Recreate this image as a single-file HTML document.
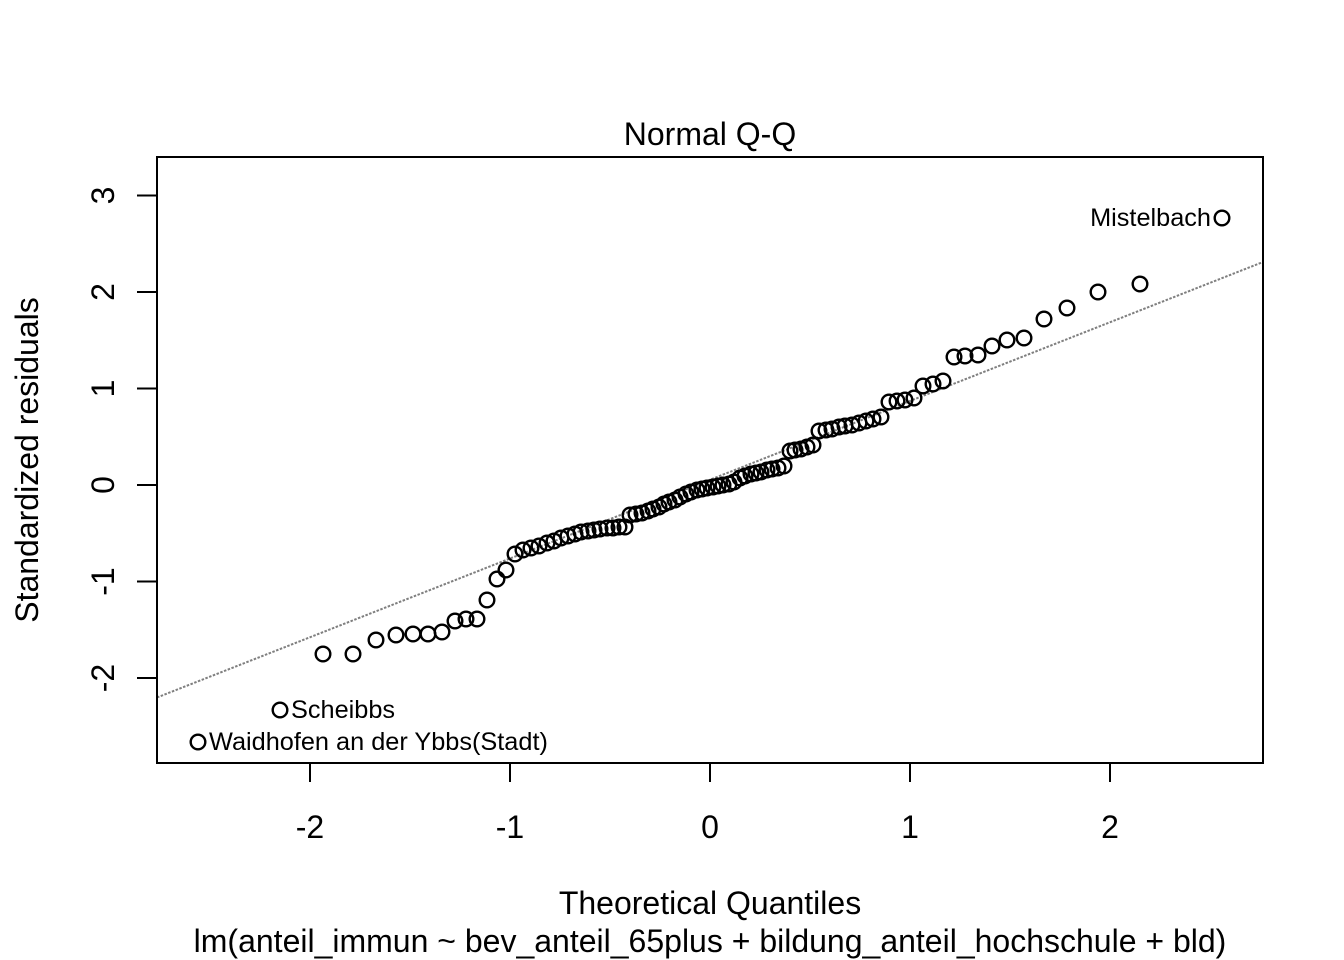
<!DOCTYPE html>
<html>
<head>
<meta charset="utf-8">
<style>
html,body{margin:0;padding:0;background:#fff;}
svg{display:block;}
text{font-family:"Liberation Sans",Arial,Helvetica,sans-serif;fill:#000;}
</style>
</head>
<body>
<svg width="1344" height="960" viewBox="0 0 1344 960" xmlns="http://www.w3.org/2000/svg">
<rect x="0" y="0" width="1344" height="960" fill="#fff"/>
<defs><clipPath id="pc"><rect x="157" y="157" width="1106" height="606"/></clipPath></defs>
<line x1="157" y1="697.5" x2="1263" y2="262" stroke="#7f7f7f" stroke-width="2" stroke-dasharray="2.5,1.5" clip-path="url(#pc)"/>
<g fill="none" stroke="#000" stroke-width="2.4">
<circle cx="198" cy="742" r="7.3"/>
<circle cx="280" cy="710" r="7.3"/>
<circle cx="323" cy="654" r="7.3"/>
<circle cx="353" cy="654" r="7.3"/>
<circle cx="376" cy="640" r="7.3"/>
<circle cx="396" cy="635" r="7.3"/>
<circle cx="413" cy="634" r="7.3"/>
<circle cx="428" cy="634" r="7.3"/>
<circle cx="442" cy="632" r="7.3"/>
<circle cx="455" cy="621" r="7.3"/>
<circle cx="466" cy="619" r="7.3"/>
<circle cx="477" cy="619" r="7.3"/>
<circle cx="487" cy="600" r="7.3"/>
<circle cx="497" cy="579" r="7.3"/>
<circle cx="506" cy="570" r="7.3"/>
<circle cx="515" cy="554" r="7.3"/>
<circle cx="523" cy="550" r="7.3"/>
<circle cx="531" cy="548" r="7.3"/>
<circle cx="539" cy="546" r="7.3"/>
<circle cx="547" cy="543" r="7.3"/>
<circle cx="554" cy="541" r="7.3"/>
<circle cx="561" cy="538" r="7.3"/>
<circle cx="568" cy="536" r="7.3"/>
<circle cx="575" cy="534" r="7.3"/>
<circle cx="581" cy="532" r="7.3"/>
<circle cx="588" cy="531" r="7.3"/>
<circle cx="594" cy="530" r="7.3"/>
<circle cx="600" cy="529" r="7.3"/>
<circle cx="607" cy="528" r="7.3"/>
<circle cx="613" cy="528" r="7.3"/>
<circle cx="619" cy="527" r="7.3"/>
<circle cx="625" cy="527" r="7.3"/>
<circle cx="630" cy="515" r="7.3"/>
<circle cx="636" cy="514" r="7.3"/>
<circle cx="642" cy="513" r="7.3"/>
<circle cx="648" cy="511" r="7.3"/>
<circle cx="653" cy="509" r="7.3"/>
<circle cx="659" cy="507" r="7.3"/>
<circle cx="664" cy="504" r="7.3"/>
<circle cx="669" cy="502" r="7.3"/>
<circle cx="675" cy="500" r="7.3"/>
<circle cx="680" cy="497" r="7.3"/>
<circle cx="686" cy="494" r="7.3"/>
<circle cx="691" cy="492" r="7.3"/>
<circle cx="697" cy="490" r="7.3"/>
<circle cx="702" cy="489" r="7.3"/>
<circle cx="707" cy="488" r="7.3"/>
<circle cx="713" cy="487" r="7.3"/>
<circle cx="718" cy="486" r="7.3"/>
<circle cx="723" cy="485" r="7.3"/>
<circle cx="729" cy="484" r="7.3"/>
<circle cx="734" cy="482" r="7.3"/>
<circle cx="740" cy="478" r="7.3"/>
<circle cx="745" cy="476" r="7.3"/>
<circle cx="751" cy="474" r="7.3"/>
<circle cx="756" cy="473" r="7.3"/>
<circle cx="761" cy="472" r="7.3"/>
<circle cx="767" cy="470" r="7.3"/>
<circle cx="772" cy="469" r="7.3"/>
<circle cx="778" cy="468" r="7.3"/>
<circle cx="784" cy="466" r="7.3"/>
<circle cx="790" cy="451" r="7.3"/>
<circle cx="795" cy="450" r="7.3"/>
<circle cx="801" cy="449" r="7.3"/>
<circle cx="807" cy="447" r="7.3"/>
<circle cx="813" cy="445" r="7.3"/>
<circle cx="819" cy="431" r="7.3"/>
<circle cx="826" cy="430" r="7.3"/>
<circle cx="832" cy="429" r="7.3"/>
<circle cx="839" cy="427" r="7.3"/>
<circle cx="845" cy="426" r="7.3"/>
<circle cx="852" cy="425" r="7.3"/>
<circle cx="859" cy="423" r="7.3"/>
<circle cx="866" cy="421" r="7.3"/>
<circle cx="873" cy="419" r="7.3"/>
<circle cx="881" cy="417" r="7.3"/>
<circle cx="889" cy="402" r="7.3"/>
<circle cx="897" cy="401" r="7.3"/>
<circle cx="905" cy="400" r="7.3"/>
<circle cx="914" cy="398" r="7.3"/>
<circle cx="923" cy="386" r="7.3"/>
<circle cx="933" cy="384" r="7.3"/>
<circle cx="943" cy="381" r="7.3"/>
<circle cx="954" cy="357" r="7.3"/>
<circle cx="965" cy="356" r="7.3"/>
<circle cx="978" cy="355" r="7.3"/>
<circle cx="992" cy="346" r="7.3"/>
<circle cx="1007" cy="340" r="7.3"/>
<circle cx="1024" cy="338" r="7.3"/>
<circle cx="1044" cy="319" r="7.3"/>
<circle cx="1067" cy="308" r="7.3"/>
<circle cx="1098" cy="292" r="7.3"/>
<circle cx="1140" cy="284" r="7.3"/>
<circle cx="1222" cy="218" r="7.3"/>
</g>
<text x="209" y="750" font-size="25.3">Waidhofen an der Ybbs(Stadt)</text>
<text x="291" y="718" font-size="25.3">Scheibbs</text>
<text x="1211" y="226" font-size="25.3" text-anchor="end">Mistelbach</text>
<rect x="157" y="157" width="1106" height="606" fill="none" stroke="#000" stroke-width="2"/>
<g stroke="#000" stroke-width="2">
<line x1="310" y1="763" x2="310" y2="782"/>
<line x1="510" y1="763" x2="510" y2="782"/>
<line x1="710" y1="763" x2="710" y2="782"/>
<line x1="910" y1="763" x2="910" y2="782"/>
<line x1="1110" y1="763" x2="1110" y2="782"/>
<line x1="137" y1="195.5" x2="157" y2="195.5"/>
<line x1="137" y1="292" x2="157" y2="292"/>
<line x1="137" y1="388.5" x2="157" y2="388.5"/>
<line x1="137" y1="485" x2="157" y2="485"/>
<line x1="137" y1="581.5" x2="157" y2="581.5"/>
<line x1="137" y1="678" x2="157" y2="678"/>
</g>
<g font-size="32" text-anchor="middle">
<text x="310" y="838">-2</text>
<text x="510" y="838">-1</text>
<text x="710" y="838">0</text>
<text x="910" y="838">1</text>
<text x="1110" y="838">2</text>
</g>
<g font-size="32" text-anchor="middle">
<text transform="translate(114,195.5) rotate(-90)">3</text>
<text transform="translate(114,292) rotate(-90)">2</text>
<text transform="translate(114,388.5) rotate(-90)">1</text>
<text transform="translate(114,485) rotate(-90)">0</text>
<text transform="translate(114,581.5) rotate(-90)">-1</text>
<text transform="translate(114,678) rotate(-90)">-2</text>
</g>
<text x="710" y="145" font-size="32" text-anchor="middle">Normal Q-Q</text>
<text x="710" y="914" font-size="32" text-anchor="middle">Theoretical Quantiles</text>
<text x="710" y="952" font-size="32" text-anchor="middle">lm(anteil_immun ~ bev_anteil_65plus + bildung_anteil_hochschule + bld)</text>
<text transform="translate(38,460) rotate(-90)" font-size="32" text-anchor="middle">Standardized residuals</text>
</svg>
</body>
</html>
